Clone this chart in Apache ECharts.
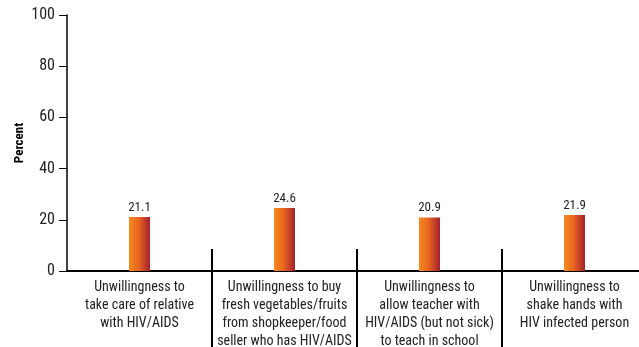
<!DOCTYPE html>
<html><head><meta charset="utf-8">
<script src="https://cdn.jsdelivr.net/npm/echarts@6/dist/echarts.min.js"></script>
<style>html,body{margin:0;padding:0;background:#fff}#c{width:639px;height:347px}</style>
</head><body><div id="c"></div>
<script>
var categories = [
  "Unwillingness to\ntake care of relative\nwith HIV/AIDS",
  "Unwillingness to buy\nfresh vegetables/fruits\nfrom shopkeeper/food\nseller who has HIV/AIDS",
  "Unwillingness to\nallow teacher with\nHIV/AIDS (but not sick)\nto teach in school",
  "Unwillingness to\nshake hands with\nHIV infected person"
];
var values = [21.1, 24.6, 20.9, 21.9];
var yTicks = [0, 20, 40, 60, 80, 100];

var FONT = '"Liberation Sans Narrow", "Roboto Condensed", "DejaVu Sans Condensed", sans-serif';
var chart = echarts.init(document.getElementById('c'), null, {renderer: 'canvas'});
var grad = new echarts.graphic.LinearGradient(0, 0, 1, 0, [
  {offset: 0, color: '#F58A1F'},
  {offset: 0.45, color: '#E8661F'},
  {offset: 1, color: '#A3202E'}
]);
chart.setOption({
  animation: false,
  grid: {left: 67, top: 15, width: 580, height: 256, outerBoundsMode: 'none', containLabel: false},
  xAxis: [{
    type: 'category', data: categories, position: 'bottom',
    axisLine: {lineStyle: {color: '#000', width: 2}},
    axisTick: {show: true, length: 76, interval: function (i) { return i > 0; }, lineStyle: {color: '#000', width: 2}},
    axisLabel: {fontFamily: FONT, fontSize: 14, color: '#222', lineHeight: 18, margin: 7, interval: 0}
  }, {
    type: 'category', data: categories, position: 'bottom',
    axisLine: {show: false},
    axisTick: {show: true, inside: true, length: 22, interval: function (i) { return i > 0; }, lineStyle: {color: '#000', width: 2}},
    axisLabel: {show: false}
  }],
  yAxis: {
    type: 'value', min: yTicks[0], max: yTicks[yTicks.length - 1], interval: 20,
    name: 'Percent', nameLocation: 'middle', nameGap: 41, nameRotate: 90, nameMoveOverlap: false,
    nameTextStyle: {fontFamily: FONT, fontWeight: 'bold', fontSize: 13, color: '#000'},
    axisLine: {show: true, lineStyle: {color: '#000', width: 1.5}},
    axisTick: {show: true, length: 8, lineStyle: {color: '#000', width: 1}},
    axisLabel: {fontFamily: FONT, fontSize: 16, color: '#222', margin: 12},
    splitLine: {show: false}
  },
  series: [{
    type: 'bar', data: values, barWidth: 21,
    itemStyle: {color: grad},
    label: {show: true, position: 'top', distance: 3, fontFamily: FONT, fontSize: 13, color: '#222',
      formatter: function (p) { return p.value.toFixed(1); }}
  }]
});
</script></body></html>
